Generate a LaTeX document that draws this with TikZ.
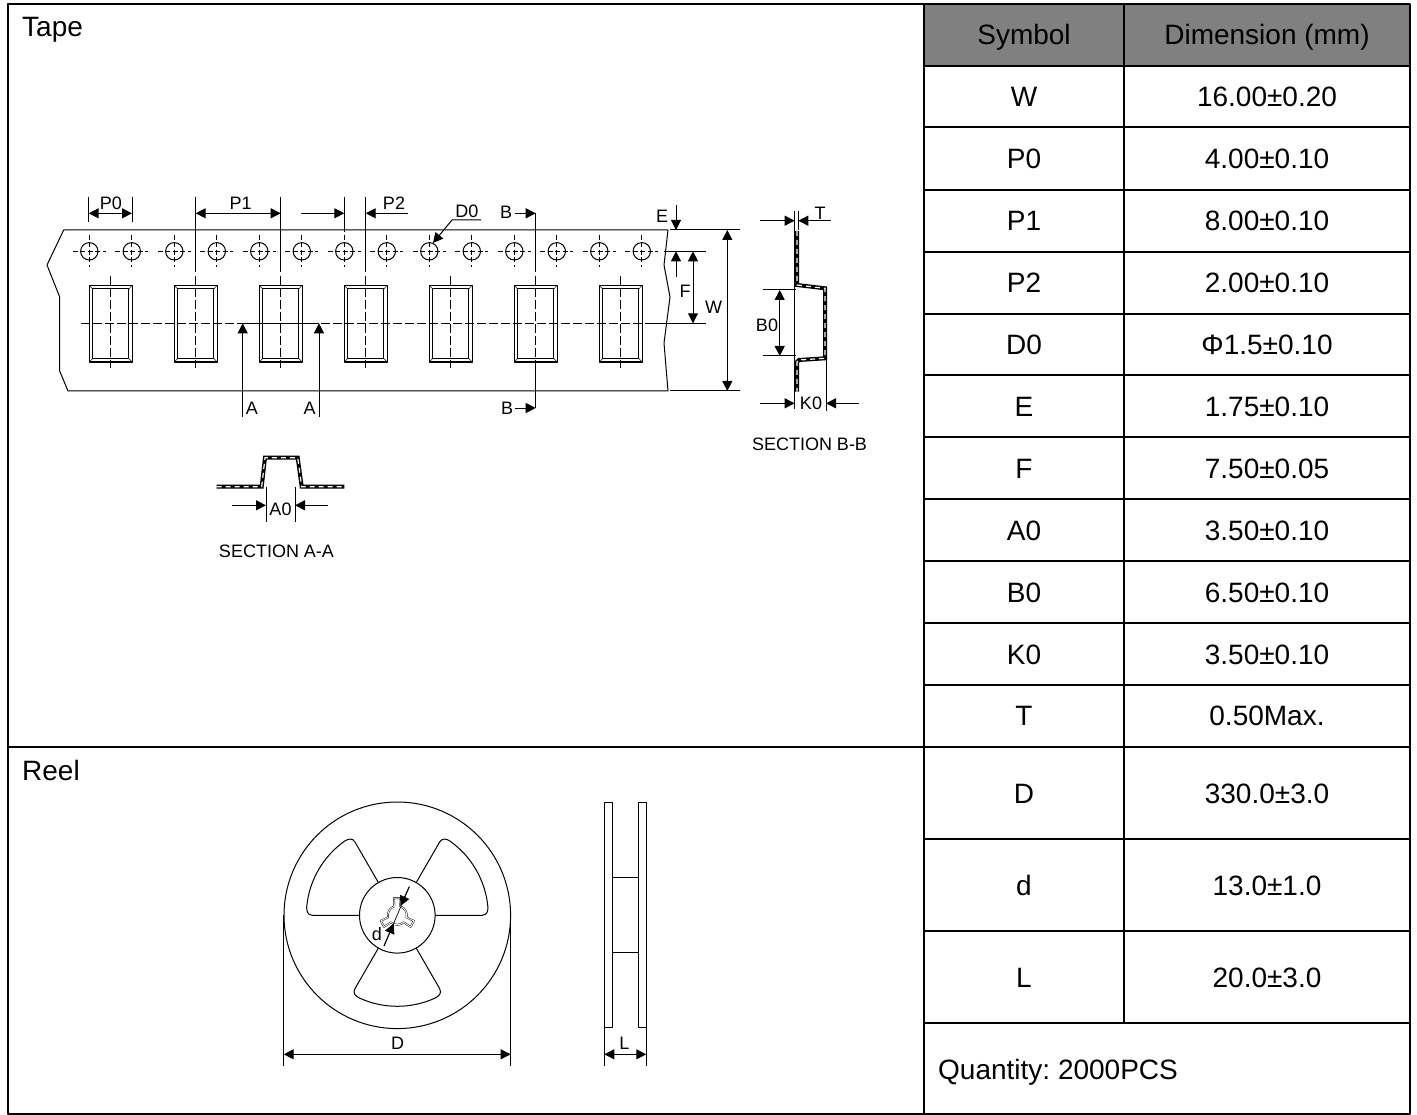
\documentclass[tikz,border=0pt]{standalone}
\usepackage{fontspec}
\setmainfont{Liberation Sans}
\usetikzlibrary{arrows.meta}
\definecolor{headgray}{RGB}{128,128,128}
\tikzset{
  frameline/.style={line width=2pt},
  thinline/.style={line width=1pt},
  dimline/.style={line width=1pt,>={Triangle[length=10pt,width=10pt]}},
  centerline/.style={line width=.8pt,dash pattern=on 9pt off 3pt},
  crossline/.style={line width=.8pt,dash pattern=on 5pt off 2.5pt},
  band/.style={line width=4pt,line join=miter,postaction={draw,white,line width=1.2pt,dash pattern=on 5pt off 4pt}},
  tablab/.style={font=\fontsize{28}{28}\selectfont,inner sep=0pt,anchor=base},
  drawlab/.style={font=\fontsize{18}{18}\selectfont,inner sep=0pt}
}
\frenchspacing
\begin{document}
\begin{tikzpicture}[line cap=butt,line join=round,x=1pt,y=-1pt]
\useasboundingbox (0,0) rectangle (1417,1115);
\fill[white] (0,0) rectangle (1417,1115);
\fill[headgray] (924,4) rectangle (1410,66);
\draw[frameline] (8,4) rectangle (1410,1114);
\draw[frameline] (924,4) -- (924,1114);
\draw[frameline] (1124,4) -- (1124,1022.7);
\draw[frameline] (8,747) -- (924,747);
\foreach \y in {66,127.5,190,252,314,375.5,437,499,561,623,685,747,839,931,1022.7}
  \draw[frameline] (924,\y) -- (1410,\y);
\foreach \i/\y/\s/\v in {0/45/Symbol/Dimension (mm),1/107/W/16.00±0.20,2/169/P0/4.00±0.10,3/231/P1/8.00±0.10,4/292.5/P2/2.00±0.10,5/354.5/D0/Φ1.5±0.10,6/416/E/1.75±0.10,7/478/F/7.50±0.05,8/540/A0/3.50±0.10,9/602/B0/6.50±0.10,10/664/K0/3.50±0.10,11/725.5/T/0.50Max.,12/803/D/330.0±3.0,13/895/d/13.0±1.0,14/987/L/20.0±3.0}{
  \node[tablab] (sym\i) at (1024,\y) {\s};
  \node[tablab] (val\i) at (1267,\y) {\v};
}
\node[tablab,anchor=base west] (qty) at (938,1079) {Quantity: 2000PCS};
\node[tablab,anchor=base west] (tape) at (22,36.7) {Tape};
\node[tablab,anchor=base west] (reeltxt) at (22,780) {Reel};

\draw[thinline] (63.7,230) -- (47,265) -- (59.7,297) -- (59.7,371) -- (68,391) -- (668,391) -- (664,343) -- (670,297) -- (664,265) -- (668,230) -- cycle;
\foreach \i in {0,...,13}{
  \pgfmathsetmacro{\hx}{89.3+42.5*\i}
  \draw[thinline] (\hx,251.3) circle[radius=8.7pt];
  \draw[crossline] (\hx-16.5,251.3) -- (\hx+16.5,251.3);
  \draw[crossline] (\hx,235) -- (\hx,267.5);
}
\foreach \i in {0,...,6}{
  \pgfmathsetmacro{\px}{110.7+85*\i}
  \draw[line width=1.2pt] (\px-21.5,285.3) rectangle (\px+21.5,362);
  \draw[thinline] (\px-18,289) rectangle (\px+18,358.5);
  \draw[line width=.5pt] (\px-21.5,285.3) -- (\px-18,289) (\px+21.5,285.3) -- (\px+18,289) (\px-21.5,362) -- (\px-18,358.5) (\px+21.5,362) -- (\px+18,358.5);
  \draw[centerline] (\px,276) -- (\px,368);
}
\draw[centerline] (80.7,323.3) -- (650,323.3);
\draw[thinline] (242.7,323.3) -- (319,323.3);
\draw[thinline] (650,323.3) -- (706,323.3);
\draw[thinline] (664,251.3) -- (706,251.3);
\draw[thinline] (670,230) -- (740,230);
\draw[thinline] (670,391) -- (740,391);

\foreach \x in {88.7,132}
  \draw[thinline] (\x,196.7) -- (\x,222);
\foreach \x in {195.7,280.7,365.7}
  \draw[thinline] (\x,196.7) -- (\x,271.7);
\draw[thinline] (535.7,213.3) -- (535.7,271.7);
\draw[thinline] (344.3,196.7) -- (344.3,232);
\draw[thinline] (535.7,368) -- (535.7,408);
\draw[dimline,<->] (88.7,213.3) -- (132,213.3);
\draw[dimline,<->] (195.7,213.3) -- (280.7,213.3);
\draw[dimline,->] (301,213.3) -- (344.3,213.3);
\draw[dimline,->] (408,213.3) -- (365.7,213.3);
\node[drawlab] (lblP0) at (111,203) {P0};
\node[drawlab] (lblP1) at (240.6,203) {P1};
\node[drawlab] (lblP2) at (394,203) {P2};
\draw[dimline,->] (481,220) -- (452,220) -- (433,243);
\node[drawlab] (lblD0) at (467,211) {D0};
\draw[dimline,->] (515,213.3) -- (535.7,213.3);
\draw[dimline,->] (515,408) -- (535.7,408);
\node[drawlab] (lblB1) at (506,212) {B};
\node[drawlab] (lblB2) at (507,408) {B};
\draw[dimline,->] (242.7,416.7) -- (242.7,323.3);
\draw[dimline,->] (319,416.7) -- (319,323.3);
\node[drawlab] (lblA1) at (252,408) {A};
\node[drawlab] (lblA2) at (309.5,408) {A};
\draw[dimline,->] (676,205) -- (676,230);
\draw[dimline,->] (676,276.7) -- (676,251.3);
\node[drawlab] (lblE) at (662,216) {E};
\draw[dimline,<->] (693,251.3) -- (693,323.3);
\node[drawlab] (lblF) at (685,291) {F};
\draw[dimline,<->] (727.3,230) -- (727.3,391);
\node[drawlab] (lblW) at (713.5,307) {W};

\draw[band] (797,231) -- (797,285) -- (825,288.3) -- (825,358.3) -- (799,360) -- (797,362) -- (797,391.7);
\draw[thinline] (794.7,230) -- (794.7,409);
\draw[thinline] (826,360) -- (826,410.7);
\draw[thinline] (798.3,210.7) -- (798.3,230);
\draw[thinline] (794.7,210.7) -- (794.7,230);
\draw[dimline,->] (760,220.7) -- (794.7,220.7);
\draw[dimline,->] (830.7,220.7) -- (798.3,220.7);
\node[drawlab] (lblT) at (820,213) {T};
\draw[thinline] (762.7,290) -- (796,290);
\draw[thinline] (762.7,356) -- (796,356);
\draw[dimline,<->] (779.7,290) -- (779.7,356);
\node[drawlab] (lblB0) at (767,325) {B0};
\draw[dimline,->] (760,403.3) -- (794.7,403.3);
\draw[dimline,->] (859,403.3) -- (826,403.3);
\node[drawlab] (lblK0) at (811,403) {K0};
\node[drawlab] (secB) at (809.5,444) {SECTION B-B};

\draw[band] (216.7,486.7) -- (261.7,486.7) -- (265,457.7) -- (297.7,457.7) -- (301.7,486.7) -- (344.3,486.7);
\draw[thinline] (266,487) -- (266,521.7);
\draw[thinline] (295,487) -- (295,521.7);
\draw[dimline,->] (232.3,505.3) -- (266,505.3);
\draw[dimline,->] (327.7,505.3) -- (295,505.3);
\node[drawlab] (lblA0) at (280.5,509) {A0};
\node[drawlab] (secA) at (276.5,551) {SECTION A-A};

\coordinate (reel) at (397.3,915.3);
\draw[thinline] (reel) circle[radius=113.3pt];
\draw[thinline] (reel) circle[radius=37.8pt];
\foreach \a in {0,120,240}
  \draw[thinline,shift={(reel)},rotate=\a] (0:37.8pt) -- (0:84.7pt) .. controls (0:90pt) and (3:91pt) .. (5.5:91pt) arc[start angle=5.5,end angle=54.5,radius=91pt] .. controls (57:91pt) and (60:90pt) .. (60:84.7pt) -- (60:37.8pt);
\draw[line width=.45pt,double,double distance=.9pt,shift={(reel)}] (108:9.5pt)
  foreach \a in {90,-30,-150}{
    -- (\a+11:17.5pt) -- (\a-11:17.5pt) -- (\a-18:9.5pt) arc[start angle=\a-18,end angle=\a-102,radius=9.5pt]
  };
\draw[line width=.7pt] (409.3,886.7) -- (384,946);
\draw[dimline,->] (409.3,886.7) -- (400.5,906);
\draw[dimline,->] (384,946) -- (393.6,923.5);
\node[drawlab] (lbld) at (377,934) {d};

\draw[thinline] (604.3,802.3) rectangle (612.3,1027.7);
\draw[thinline] (638.7,802.3) rectangle (646.3,1027.7);
\draw[line width=.6pt] (612.3,877.3) -- (638.7,877.3);
\draw[line width=.6pt] (612.3,952.7) -- (638.7,952.7);
\draw[thinline] (604.3,1028) -- (604.3,1066);
\draw[thinline] (646.3,1028) -- (646.3,1066);
\draw[dimline,<->] (604.3,1054.3) -- (646.3,1054.3);
\node[drawlab] (lblL) at (624.3,1043.5) {L};
\draw[thinline] (283.7,915) -- (283.7,1066);
\draw[thinline] (510.7,915) -- (510.7,1066);
\draw[dimline,<->] (283.7,1054.3) -- (510.7,1054.3);
\node[drawlab] (lblD) at (397.5,1043) {D};
\end{tikzpicture}
\end{document}
